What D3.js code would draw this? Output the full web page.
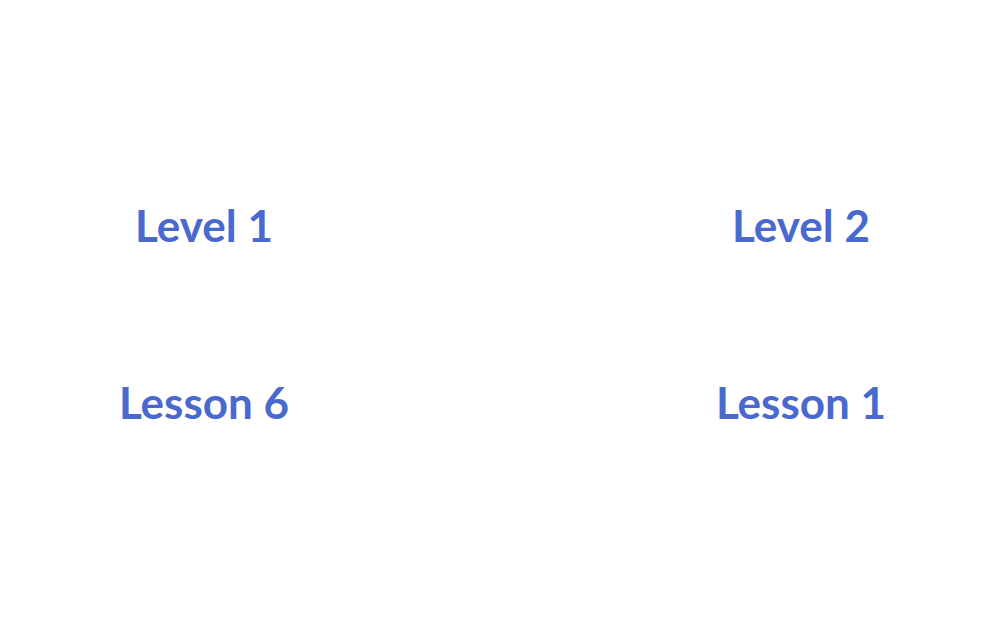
<!DOCTYPE html>
<html>
<head>
<meta charset="utf-8">
<script src="https://cdn.jsdelivr.net/npm/d3@7"></script>
<style>
  body { margin: 0; background: #fff; }
</style>
</head>
<body>
<div id="chart"></div>
<script>
// labels, one list per column
var columns = ["left", "right"];
var rows = ["level", "lesson"];
var leftLabels = ["Level 1", "Lesson 6"];
var rightLabels = ["Level 2", "Lesson 1"];

var width = 1000, height = 640;

var svg = d3.select("#chart")
    .append("svg")
    .attr("width", width)
    .attr("height", height);

var x = d3.scalePoint().domain(columns).range([204, 801]);
var y = d3.scalePoint().domain(rows).range([242, 419]);

var cells = [];
columns.forEach(function (c, i) {
    var labels = i == 0 ? leftLabels : rightLabels;
    rows.forEach(function (r, j) {
        cells.push({ col: c, row: r, text: labels[j] });
    });
});

svg.selectAll(".label")
    .data(cells)
    .enter().append("text")
    .attr("class", "label")
    .attr("x", function (d) { return x(d.col); })
    .attr("y", function (d) { return y(d.row); })
    .attr("text-anchor", "middle")
    .style("font-family", "Lato, 'Noto Sans', sans-serif")
    .style("font-weight", "700")
    .style("font-size", "44px")
    .style("fill", "#4a69cf")
    .text(function (d) { return d.text; });
</script>
</body>
</html>
